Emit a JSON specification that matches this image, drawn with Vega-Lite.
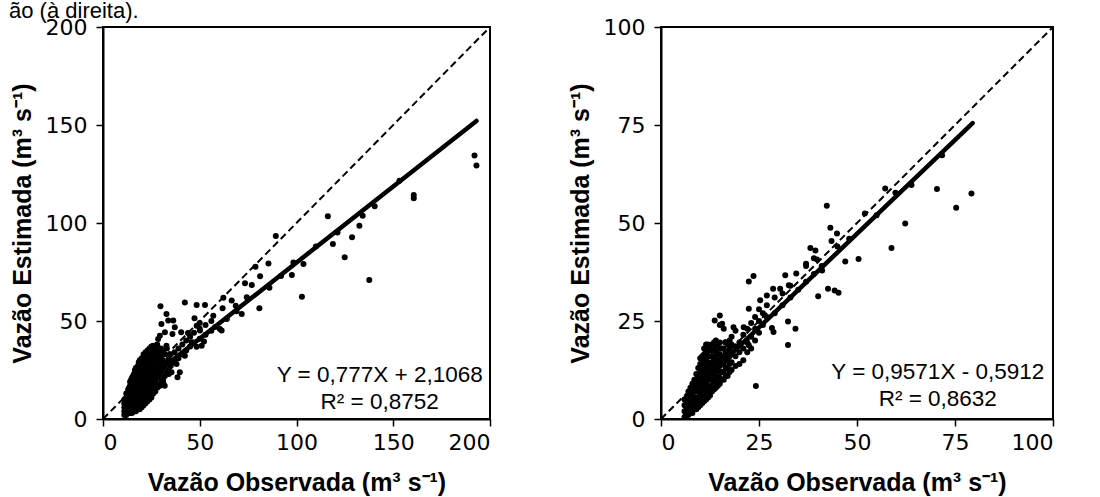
{
  "$schema": "https://vega.github.io/schema/vega-lite/v6.json",
  "background": "white",
  "padding": {"left": 9, "top": 0, "right": 4, "bottom": 0},
  "title": {"text": "ão (à direita).", "anchor": "start", "fontSize": 22, "fontWeight": "normal", "font": "Liberation Sans", "color": "black", "offset": -8, "frame": "bounds"},
  "config": {
    "view": {"stroke": "black", "strokeWidth": 2},
    "axis": {"grid": false, "domainColor": "black", "domainWidth": 2, "tickColor": "black", "tickSize": 7, "tickWidth": 1.5,
      "labelFont": "DejaVu Sans", "labelFontSize": 22, "labelColor": "black",
      "titleFont": "Liberation Sans", "titleFontSize": 25, "titleFontWeight": "bold", "titleColor": "black"},
    "axisX": {"labelPadding": 6, "titlePadding": 17},
    "axisY": {"labelPadding": 9, "titlePadding": 10}
  },
  "spacing": 72,
  "datasets": {
    "left_pts": [
      {"x":192,"y":134.4},{"x":193,"y":129.3},{"x":160.6,"y":114.3},{"x":160.6,"y":112.6},{"x":153.2,"y":121.6},{"x":140.4,"y":108.5},{"x":134.2,"y":103.7},{"x":132.5,"y":98.6},{"x":128.7,"y":92.7},{"x":124.9,"y":82.5},{"x":137.6,"y":70.9},{"x":116.2,"y":103.4},{"x":118.8,"y":89.3},{"x":121.2,"y":95.2},{"x":102.8,"y":62.4},{"x":103.6,"y":79.1},{"x":98.4,"y":79.9},{"x":97.6,"y":73.5},{"x":89.3,"y":93.4},{"x":85.5,"y":79.4},{"x":80.8,"y":56.5},{"x":81.2,"y":72.8},{"x":78.8,"y":77.7},{"x":76.9,"y":68.4},{"x":74.3,"y":62.1},{"x":73.4,"y":69.2},{"x":71.7,"y":53.6},{"x":68.6,"y":57.8},{"x":66.5,"y":60.4},{"x":62.2,"y":61.9},{"x":61.8,"y":56.5},{"x":57,"y":52.7},{"x":60.4,"y":45.9},{"x":61.3,"y":45.1},{"x":52.7,"y":58.2},{"x":48.4,"y":58.2},{"x":42.3,"y":59.5},{"x":29.7,"y":57.5},{"x":30.2,"y":48.5},{"x":32.8,"y":53.6},{"x":33.7,"y":50.2},{"x":36.3,"y":50.2},{"x":37.1,"y":46.8},{"x":35.9,"y":43.4},{"x":40.4,"y":44.2},{"x":43.9,"y":43.9},{"x":47.3,"y":51.4},{"x":48.4,"y":47.6},{"x":50.1,"y":45.1},{"x":52.2,"y":39.5},{"x":48.4,"y":36.9},{"x":51,"y":37.4},{"x":45.8,"y":39.1},{"x":39.7,"y":23.8},{"x":38.5,"y":21.3},{"x":35.4,"y":23.8},{"x":34,"y":23},{"x":31.1,"y":18.7},{"x":29.4,"y":17},{"x":31.9,"y":17},{"x":36.3,"y":28.9},{"x":38,"y":28.1},{"x":42.3,"y":32.3},{"x":32.8,"y":37.4},{"x":28.5,"y":40.8},{"x":29.4,"y":42.5},{"x":32,"y":44.2},{"x":25.9,"y":37.4},{"x":25.6,"y":23.8},{"x":25,"y":13.6},{"x":22.5,"y":10.2},
      {"x":64,"y":51},{"x":69,"y":55},{"x":86,"y":67},{"x":92,"y":73},{"x":110,"y":88},
      {"x":11,"y":2},{"x":11,"y":4},{"x":11,"y":6},{"x":11,"y":8},{"x":11,"y":10},
      {"x":12,"y":2},{"x":12,"y":3},{"x":12,"y":5},{"x":12,"y":7},{"x":12,"y":9},{"x":12,"y":11},{"x":12,"y":13},
      {"x":13,"y":3},{"x":13,"y":5},{"x":13,"y":7},{"x":13,"y":9},{"x":13,"y":11},{"x":13,"y":13},{"x":13,"y":15},
      {"x":14,"y":3},{"x":14,"y":5},{"x":14,"y":7},{"x":14,"y":9},{"x":14,"y":11},{"x":14,"y":13},{"x":14,"y":15},{"x":14,"y":17},{"x":14,"y":19},
      {"x":15,"y":3},{"x":15,"y":5},{"x":15,"y":8},{"x":15,"y":10},{"x":15,"y":12},{"x":15,"y":14},{"x":15,"y":16},{"x":15,"y":18},{"x":15,"y":21},
      {"x":16,"y":4},{"x":16,"y":6},{"x":16,"y":8},{"x":16,"y":10},{"x":16,"y":12},{"x":16,"y":14},{"x":16,"y":16},{"x":16,"y":18},{"x":16,"y":20},{"x":16,"y":23},
      {"x":17,"y":4},{"x":17,"y":6},{"x":17,"y":9},{"x":17,"y":11},{"x":17,"y":13},{"x":17,"y":15},{"x":17,"y":17},{"x":17,"y":19},{"x":17,"y":21},{"x":17,"y":23},{"x":17,"y":26},
      {"x":18,"y":5},{"x":18,"y":7},{"x":18,"y":10},{"x":18,"y":12},{"x":18,"y":14},{"x":18,"y":16},{"x":18,"y":18},{"x":18,"y":20},{"x":18,"y":22},{"x":18,"y":24},{"x":18,"y":27},
      {"x":19,"y":5},{"x":19,"y":8},{"x":19,"y":11},{"x":19,"y":13},{"x":19,"y":15},{"x":19,"y":17},{"x":19,"y":19},{"x":19,"y":21},{"x":19,"y":23},{"x":19,"y":25},{"x":19,"y":28},{"x":19,"y":30},
      {"x":20,"y":6},{"x":20,"y":9},{"x":20,"y":12},{"x":20,"y":14},{"x":20,"y":16},{"x":20,"y":18},{"x":20,"y":20},{"x":20,"y":22},{"x":20,"y":24},{"x":20,"y":26},{"x":20,"y":29},{"x":20,"y":31},
      {"x":21,"y":7},{"x":21,"y":10},{"x":21,"y":13},{"x":21,"y":16},{"x":21,"y":19},{"x":21,"y":21},{"x":21,"y":23},{"x":21,"y":25},{"x":21,"y":28},{"x":21,"y":30},{"x":21,"y":33},
      {"x":22,"y":8},{"x":22,"y":11},{"x":22,"y":14},{"x":22,"y":17},{"x":22,"y":20},{"x":22,"y":23},{"x":22,"y":26},{"x":22,"y":29},{"x":22,"y":32},{"x":22,"y":34},
      {"x":23,"y":9},{"x":23,"y":12},{"x":23,"y":16},{"x":23,"y":19},{"x":23,"y":22},{"x":23,"y":25},{"x":23,"y":28},{"x":23,"y":31},{"x":23,"y":35},
      {"x":24,"y":10},{"x":24,"y":14},{"x":24,"y":18},{"x":24,"y":21},{"x":24,"y":24},{"x":24,"y":27},{"x":24,"y":30},{"x":24,"y":33},{"x":24,"y":36},
      {"x":25,"y":11},{"x":25,"y":15},{"x":25,"y":19},{"x":25,"y":23},{"x":25,"y":26},{"x":25,"y":29},{"x":25,"y":32},{"x":25,"y":35},{"x":25,"y":37},
      {"x":26,"y":13},{"x":26,"y":17},{"x":26,"y":21},{"x":26,"y":25},{"x":26,"y":28},{"x":26,"y":31},{"x":26,"y":34},{"x":26,"y":37},
      {"x":27,"y":14},{"x":27,"y":19},{"x":27,"y":23},{"x":27,"y":27},{"x":27,"y":30},{"x":27,"y":33},{"x":27,"y":36},
      {"x":28,"y":16},{"x":28,"y":21},{"x":28,"y":25},{"x":28,"y":29},{"x":28,"y":32},{"x":28,"y":35},{"x":28,"y":38},
      {"x":29,"y":17},{"x":29,"y":22},{"x":29,"y":26},{"x":29,"y":30},{"x":29,"y":34},
      {"x":30,"y":19},{"x":30,"y":24},{"x":30,"y":28},{"x":30,"y":32},{"x":30,"y":36},
      {"x":31,"y":20},{"x":31,"y":26},{"x":31,"y":30},{"x":31,"y":35},
      {"x":32,"y":22},{"x":32,"y":27},{"x":32,"y":33},
      {"x":33,"y":24},{"x":33,"y":29},{"x":33,"y":36},
      {"x":34,"y":25},{"x":34,"y":31},{"x":35,"y":27},{"x":35,"y":33},{"x":37,"y":29},{"x":37,"y":34},{"x":39,"y":31},{"x":39,"y":36},{"x":41,"y":33},{"x":41,"y":38},{"x":43,"y":35},{"x":43,"y":40},{"x":45,"y":37},{"x":45,"y":42},{"x":47,"y":39},{"x":47,"y":44},{"x":50,"y":41},{"x":50,"y":46},{"x":50,"y":49},{"x":53,"y":43},{"x":53,"y":48},{"x":56,"y":45},{"x":56,"y":50},{"x":58,"y":47},
      {"x":12.5,"y":4},{"x":12.5,"y":8},{"x":12.5,"y":12},
      {"x":13.5,"y":4},{"x":13.5,"y":8},{"x":13.5,"y":12},{"x":13.5,"y":16},
      {"x":14.5,"y":4},{"x":14.5,"y":8},{"x":14.5,"y":12},{"x":14.5,"y":16},{"x":14.5,"y":20},
      {"x":15.5,"y":6},{"x":15.5,"y":11},{"x":15.5,"y":15},{"x":15.5,"y":19},{"x":15.5,"y":22},
      {"x":16.5,"y":5},{"x":16.5,"y":9},{"x":16.5,"y":13},{"x":16.5,"y":17},{"x":16.5,"y":21},{"x":16.5,"y":25},
      {"x":17.5,"y":6},{"x":17.5,"y":10},{"x":17.5,"y":14},{"x":17.5,"y":18},{"x":17.5,"y":22},{"x":17.5,"y":25},
      {"x":18.5,"y":6},{"x":18.5,"y":9},{"x":18.5,"y":13},{"x":18.5,"y":17},{"x":18.5,"y":21},{"x":18.5,"y":25},{"x":18.5,"y":29},
      {"x":19.5,"y":7},{"x":19.5,"y":10},{"x":19.5,"y":14},{"x":19.5,"y":18},{"x":19.5,"y":22},{"x":19.5,"y":26},{"x":19.5,"y":29},
      {"x":20.5,"y":8},{"x":20.5,"y":11},{"x":20.5,"y":15},{"x":20.5,"y":19},{"x":20.5,"y":23},{"x":20.5,"y":27},{"x":20.5,"y":30},
      {"x":21.5,"y":9},{"x":21.5,"y":12},{"x":21.5,"y":15},{"x":21.5,"y":18},{"x":21.5,"y":22},{"x":21.5,"y":26},{"x":21.5,"y":31},
      {"x":22.5,"y":12},{"x":22.5,"y":15},{"x":22.5,"y":18},{"x":22.5,"y":22},{"x":22.5,"y":27},{"x":22.5,"y":31},{"x":22.5,"y":33},
      {"x":23.5,"y":11},{"x":23.5,"y":14},{"x":23.5,"y":18},{"x":23.5,"y":21},{"x":23.5,"y":26},{"x":23.5,"y":30},{"x":23.5,"y":33},
      {"x":24.5,"y":12},{"x":24.5,"y":17},{"x":24.5,"y":22},{"x":24.5,"y":25},{"x":24.5,"y":29},{"x":24.5,"y":34},
      {"x":25.5,"y":14},{"x":25.5,"y":18},{"x":25.5,"y":22},{"x":25.5,"y":27},{"x":25.5,"y":31},{"x":25.5,"y":36},
      {"x":26.5,"y":15},{"x":26.5,"y":19},{"x":26.5,"y":24},{"x":26.5,"y":29},{"x":26.5,"y":33},
      {"x":27.5,"y":17},{"x":27.5,"y":21},{"x":27.5,"y":26},{"x":27.5,"y":31},{"x":27.5,"y":35}
    ],
    "left_diag": [{"x":0,"y":0},{"x":200,"y":200}],
    "left_fit": [{"x":12,"y":11.43},{"x":193,"y":152.07}],
    "left_lbl": [{"x":143,"y":18.9,"t":"Y = 0,777X + 2,1068\nR² = 0,8752"}],
    "right_pts": [
      {"x":79.2,"y":57.5},{"x":75.3,"y":53.9},{"x":70.4,"y":58.7},{"x":71.7,"y":67.3},{"x":63.9,"y":59.7},{"x":62.3,"y":49.9},{"x":59.8,"y":57.7},{"x":58.8,"y":43.6},{"x":57.2,"y":58.8},{"x":52,"y":52.4},{"x":50.4,"y":40.8},{"x":47,"y":40.2},{"x":45.3,"y":32.2},{"x":44.3,"y":32.8},{"x":42.6,"y":33.2},{"x":44.9,"y":47.3},{"x":43.5,"y":45.4},{"x":43.2,"y":48.8},{"x":42.3,"y":54.4},{"x":41.1,"y":37.9},{"x":40.1,"y":31.3},{"x":39.8,"y":40.7},{"x":39.4,"y":43},{"x":38.1,"y":43.6},{"x":37,"y":39.6},{"x":34.5,"y":37.1},{"x":34.3,"y":23},{"x":32.4,"y":24.9},{"x":32.4,"y":18.9},{"x":32.6,"y":34.1},{"x":31.7,"y":36.7},{"x":30.4,"y":33.2},{"x":28.6,"y":33.2},{"x":28.7,"y":22.2},{"x":28.3,"y":23.2},{"x":27,"y":31.5},{"x":25.3,"y":30.3},{"x":23.6,"y":36.5},{"x":22.4,"y":35.1},{"x":24.2,"y":8.4},{"x":22.4,"y":28.1},{"x":21.1,"y":23.4},{"x":22.4,"y":18.8},{"x":18.5,"y":23.4},{"x":16.4,"y":19.6},{"x":15,"y":26.4},{"x":13.7,"y":25.1},{"x":15.6,"y":24.3},
      {"x":6,"y":0.5},{"x":6,"y":2},{"x":6,"y":3.5},{"x":6,"y":5},
      {"x":7,"y":1},{"x":7,"y":2.5},{"x":7,"y":4},{"x":7,"y":5.5},{"x":7,"y":7},
      {"x":8,"y":1.5},{"x":8,"y":3},{"x":8,"y":4.5},{"x":8,"y":6},{"x":8,"y":7.5},{"x":8,"y":9},
      {"x":9,"y":2.5},{"x":9,"y":4},{"x":9,"y":5.5},{"x":9,"y":7},{"x":9,"y":8.5},{"x":9,"y":10},{"x":9,"y":11.5},
      {"x":10,"y":3.5},{"x":10,"y":5},{"x":10,"y":6.5},{"x":10,"y":8},{"x":10,"y":9.5},{"x":10,"y":11},{"x":10,"y":12.5},{"x":10,"y":14},{"x":10,"y":15.5},
      {"x":11,"y":4.5},{"x":11,"y":6},{"x":11,"y":7.5},{"x":11,"y":9},{"x":11,"y":10.5},{"x":11,"y":12},{"x":11,"y":13.5},{"x":11,"y":15},{"x":11,"y":16.5},{"x":11,"y":18},
      {"x":12,"y":5.5},{"x":12,"y":7},{"x":12,"y":8.5},{"x":12,"y":10},{"x":12,"y":11.5},{"x":12,"y":13},{"x":12,"y":14.5},{"x":12,"y":16},{"x":12,"y":17.5},{"x":12,"y":19},
      {"x":13,"y":7},{"x":13,"y":8.5},{"x":13,"y":10},{"x":13,"y":11.5},{"x":13,"y":13},{"x":13,"y":14.5},{"x":13,"y":16},{"x":13,"y":17.5},{"x":13,"y":19},
      {"x":14,"y":8},{"x":14,"y":9.5},{"x":14,"y":11},{"x":14,"y":12.5},{"x":14,"y":14},{"x":14,"y":15.5},{"x":14,"y":17},{"x":14,"y":18.5},{"x":14,"y":20},
      {"x":15,"y":9},{"x":15,"y":10.5},{"x":15,"y":12},{"x":15,"y":13.5},{"x":15,"y":15},{"x":15,"y":16.5},{"x":15,"y":18},{"x":15,"y":19.5},{"x":15,"y":24},
      {"x":16,"y":10},{"x":16,"y":12},{"x":16,"y":14},{"x":16,"y":16},{"x":16,"y":18},{"x":16,"y":23},
      {"x":17,"y":11},{"x":17,"y":13},{"x":17,"y":15},{"x":17,"y":17},{"x":17,"y":19},
      {"x":18,"y":12.5},{"x":18,"y":14.5},{"x":18,"y":17},{"x":18,"y":19},{"x":18,"y":21},
      {"x":19,"y":13.5},{"x":19,"y":16},{"x":19,"y":18.5},{"x":19,"y":22.5},
      {"x":20,"y":14},{"x":20,"y":17},{"x":20,"y":19.5},
      {"x":21,"y":15},{"x":21,"y":18},{"x":21,"y":21.5},
      {"x":22,"y":17},{"x":22,"y":19.5},{"x":22,"y":23},
      {"x":23,"y":18},{"x":23,"y":21},{"x":23,"y":24.5},
      {"x":24,"y":20},{"x":24,"y":23},{"x":24,"y":26},
      {"x":25,"y":22},{"x":25,"y":25},{"x":25,"y":28},
      {"x":26,"y":24},{"x":26,"y":27},{"x":27,"y":26},{"x":27,"y":29},{"x":29,"y":27},{"x":29,"y":31},{"x":31,"y":29},{"x":31,"y":32},{"x":33,"y":31},{"x":33,"y":34},{"x":35,"y":33},{"x":37,"y":35},{"x":37,"y":39},{"x":39,"y":37},{"x":39,"y":41},{"x":41,"y":39},{"x":45,"y":44},{"x":48,"y":46},{"x":55,"y":52},
      {"x":6.5,"y":1},{"x":6.5,"y":3},{"x":6.5,"y":4.5},
      {"x":7.5,"y":2},{"x":7.5,"y":3.5},{"x":7.5,"y":5},{"x":7.5,"y":6.5},{"x":7.5,"y":8},
      {"x":8.5,"y":2.5},{"x":8.5,"y":4},{"x":8.5,"y":5.5},{"x":8.5,"y":7},{"x":8.5,"y":8.5},{"x":8.5,"y":10},
      {"x":9.5,"y":3},{"x":9.5,"y":5},{"x":9.5,"y":7},{"x":9.5,"y":9},{"x":9.5,"y":11},{"x":9.5,"y":13},
      {"x":10.5,"y":4},{"x":10.5,"y":6},{"x":10.5,"y":8},{"x":10.5,"y":10},{"x":10.5,"y":12},{"x":10.5,"y":14},{"x":10.5,"y":16},
      {"x":11.5,"y":5},{"x":11.5,"y":7},{"x":11.5,"y":9},{"x":11.5,"y":11},{"x":11.5,"y":13},{"x":11.5,"y":15},{"x":11.5,"y":17},{"x":11.5,"y":19},
      {"x":12.5,"y":6},{"x":12.5,"y":8},{"x":12.5,"y":10},{"x":12.5,"y":12},{"x":12.5,"y":14},{"x":12.5,"y":16},{"x":12.5,"y":18},
      {"x":13.5,"y":7.5},{"x":13.5,"y":9.5},{"x":13.5,"y":11.5},{"x":13.5,"y":13.5},{"x":13.5,"y":15.5},{"x":13.5,"y":17.5},{"x":13.5,"y":19.5},
      {"x":14.5,"y":8.5},{"x":14.5,"y":10.5},{"x":14.5,"y":12.5},{"x":14.5,"y":14.5},{"x":14.5,"y":16.5},{"x":14.5,"y":18.5},
      {"x":15.5,"y":10},{"x":15.5,"y":12},{"x":15.5,"y":14},{"x":15.5,"y":16},{"x":15.5,"y":18},
      {"x":16.5,"y":11},{"x":16.5,"y":13},{"x":16.5,"y":15},{"x":16.5,"y":17},{"x":16.5,"y":19.5},
      {"x":17.5,"y":12},{"x":17.5,"y":14},{"x":17.5,"y":16},{"x":17.5,"y":18},{"x":17.5,"y":20}
    ],
    "right_diag": [{"x":0,"y":0},{"x":100,"y":100}],
    "right_fit": [{"x":6,"y":5.15},{"x":79.5,"y":75.5}],
    "right_lbl": [{"x":70.6,"y":10.2,"t":"Y = 0,9571X - 0,5912\nR² = 0,8632"}]
  },
  "hconcat": [
    {
      "width": 387, "height": 392,
      "encoding": {
        "x": {"field": "x", "type": "quantitative", "scale": {"domain": [0, 200], "nice": false}, "axis": {"values": [0, 50, 100, 150, 200], "title": "Vazão Observada (m³ s⁻¹)"}},
        "y": {"field": "y", "type": "quantitative", "scale": {"domain": [0, 200], "nice": false}, "axis": {"values": [0, 50, 100, 150, 200], "title": "Vazão Estimada (m³ s⁻¹)"}}
      },
      "layer": [
        {"data": {"name": "left_diag"}, "mark": {"type": "line", "color": "black", "strokeWidth": 2, "strokeDash": [7, 4]}, "encoding": {}},
        {"data": {"name": "left_pts"}, "mark": {"type": "circle", "size": 36, "color": "black", "opacity": 1}, "encoding": {}},
        {"data": {"name": "left_fit"}, "mark": {"type": "line", "color": "black", "strokeWidth": 4.5, "strokeCap": "round"}, "encoding": {}},
        {"data": {"name": "left_lbl"}, "mark": {"type": "text", "align": "center", "baseline": "alphabetic", "lineBreak": "\n", "lineHeight": 27, "fontSize": 22.5, "font": "Liberation Sans", "color": "black"}, "encoding": {"text": {"field": "t"}}}
      ]
    },
    {
      "width": 392, "height": 392,
      "encoding": {
        "x": {"field": "x", "type": "quantitative", "scale": {"domain": [0, 100], "nice": false}, "axis": {"values": [0, 25, 50, 75, 100], "title": "Vazão Observada (m³ s⁻¹)"}},
        "y": {"field": "y", "type": "quantitative", "scale": {"domain": [0, 100], "nice": false}, "axis": {"values": [0, 25, 50, 75, 100], "title": "Vazão Estimada (m³ s⁻¹)"}}
      },
      "layer": [
        {"data": {"name": "right_diag"}, "mark": {"type": "line", "color": "black", "strokeWidth": 2, "strokeDash": [7, 4]}, "encoding": {}},
        {"data": {"name": "right_pts"}, "mark": {"type": "circle", "size": 36, "color": "black", "opacity": 1}, "encoding": {}},
        {"data": {"name": "right_fit"}, "mark": {"type": "line", "color": "black", "strokeWidth": 4.5, "strokeCap": "round"}, "encoding": {}},
        {"data": {"name": "right_lbl"}, "mark": {"type": "text", "align": "center", "baseline": "alphabetic", "lineBreak": "\n", "lineHeight": 27, "fontSize": 22.5, "font": "Liberation Sans", "color": "black"}, "encoding": {"text": {"field": "t"}}}
      ]
    }
  ]
}
